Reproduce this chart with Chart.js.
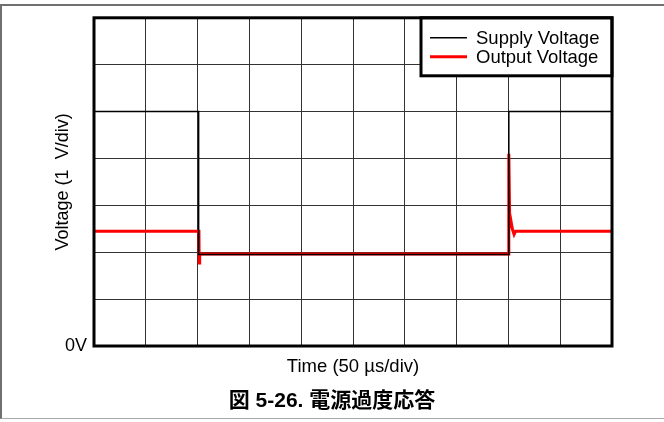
<!DOCTYPE html>
<html>
<head>
<meta charset="utf-8">
<script src="https://cdn.jsdelivr.net/npm/chart.js@4"></script>
<style>
  html, body { margin: 0; padding: 0; background: #fff; }
  #wrap { position: relative; width: 664px; height: 422px; overflow: hidden; }
  #frame { position: absolute; left: 0; top: 4px; width: 664px; height: 415px;
    border-top: 2px solid #707070; border-left: 2px solid #707070; border-bottom: 1px solid #a8a8a8; box-sizing: border-box; }
  #chart { position: absolute; left: 0; top: 0; }
  #caption { position: absolute; left: 0; width: 664px; top: 383px; text-align: center;
    font: bold 21px 'Liberation Sans', 'Noto Sans CJK JP', sans-serif; color: #000; }
</style>
</head>
<body>
<div id="wrap">
  <div id="frame"></div>
  <canvas id="chart" width="664" height="422"></canvas>
  <div id="caption">図 5-26. 電源過度応答</div>
</div>
<script>
const FONT = "'Liberation Sans', Arial, sans-serif";

// time in µs (50 µs/div), voltage in V (1 V/div)
const supplyTime = [0, 101, 101, 400.4, 400.4, 500];
const supplyVolts = [5, 5, 1.95, 1.95, 5, 5];

const outputTime = [0, 101.3, 101.5, 102, 400.2, 400.4, 401.3, 402.2, 403.8, 405.5, 407, 500];
const outputVolts = [2.45, 2.45, 1.77, 1.96, 1.96, 4.1, 2.6, 2.7, 2.5, 2.38, 2.45, 2.45];

const seriesLabels = ['Supply Voltage', 'Output Voltage'];
const xTitle = 'Time (50 \u00b5s/div)';
const yTitle = 'Voltage (1  V/div)';

const toPoints = (xs, ys) => xs.map((x, i) => ({ x, y: ys[i] }));

// frame around the plot + boxed legend in the upper right
const scopeDecor = {
  id: 'scopeDecor',
  afterDraw(chart) {
    const { ctx, chartArea: a } = chart;
    ctx.save();
    const bw = 191, bh = 58;
    const bx = a.right - bw, by = a.top;
    ctx.fillStyle = '#fff';
    ctx.fillRect(bx, by, bw, bh);
    ctx.strokeStyle = '#000';
    ctx.lineWidth = 3;
    ctx.strokeRect(bx, by, bw, bh);
    ctx.font = '18.5px ' + FONT;
    ctx.textBaseline = 'middle';
    chart.data.datasets.forEach((ds, i) => {
      const y = by + 20 + i * 19;
      ctx.strokeStyle = ds.borderColor;
      ctx.lineWidth = ds.borderWidth;
      ctx.beginPath();
      ctx.moveTo(bx + 9, y);
      ctx.lineTo(bx + 46, y);
      ctx.stroke();
      ctx.fillStyle = '#000';
      ctx.fillText(ds.label, bx + 55, y + 1);
    });
    ctx.strokeStyle = '#000';
    ctx.lineWidth = 3;
    ctx.strokeRect(a.left, a.top, a.right - a.left, a.bottom - a.top);
    ctx.restore();
  }
};

new Chart(document.getElementById('chart'), {
  type: 'line',
  data: {
    datasets: [
      { label: seriesLabels[0], data: toPoints(supplyTime, supplyVolts), borderColor: '#000', borderWidth: 1.5 },
      { label: seriesLabels[1], data: toPoints(outputTime, outputVolts), borderColor: '#ff0000', borderWidth: 3 }
    ]
  },
  options: {
    responsive: false,
    animation: false,
    devicePixelRatio: 1,
    layout: { padding: { top: 17, right: 52, left: 0, bottom: 0 } },
    elements: { point: { radius: 0 }, line: { tension: 0 } },
    plugins: { legend: { display: false }, tooltip: { enabled: false } },
    scales: {
      x: {
        type: 'linear', min: 0, max: 500,
        ticks: { display: false, stepSize: 50 },
        grid: { color: '#333', lineWidth: 1, drawTicks: false },
        border: { display: false },
        title: { display: true, text: xTitle, color: '#000', font: { family: FONT, size: 18.5 }, padding: { top: 0, bottom: 44 } },
        afterFit(s) { s.height = 76; }
      },
      y: {
        min: 0, max: 7,
        ticks: { stepSize: 1, padding: 7, color: '#000', font: { family: FONT, size: 18 },
          callback: v => (v === 0 ? '0V' : '') },
        grid: { color: '#333', lineWidth: 1, drawTicks: false },
        border: { display: false },
        title: { display: true, text: yTitle, color: '#000', font: { family: FONT, size: 18 }, padding: { top: 52, bottom: 0 } },
        afterFit(s) { s.width = 94; }
      }
    }
  },
  plugins: [scopeDecor]
});
</script>
</body>
</html>
